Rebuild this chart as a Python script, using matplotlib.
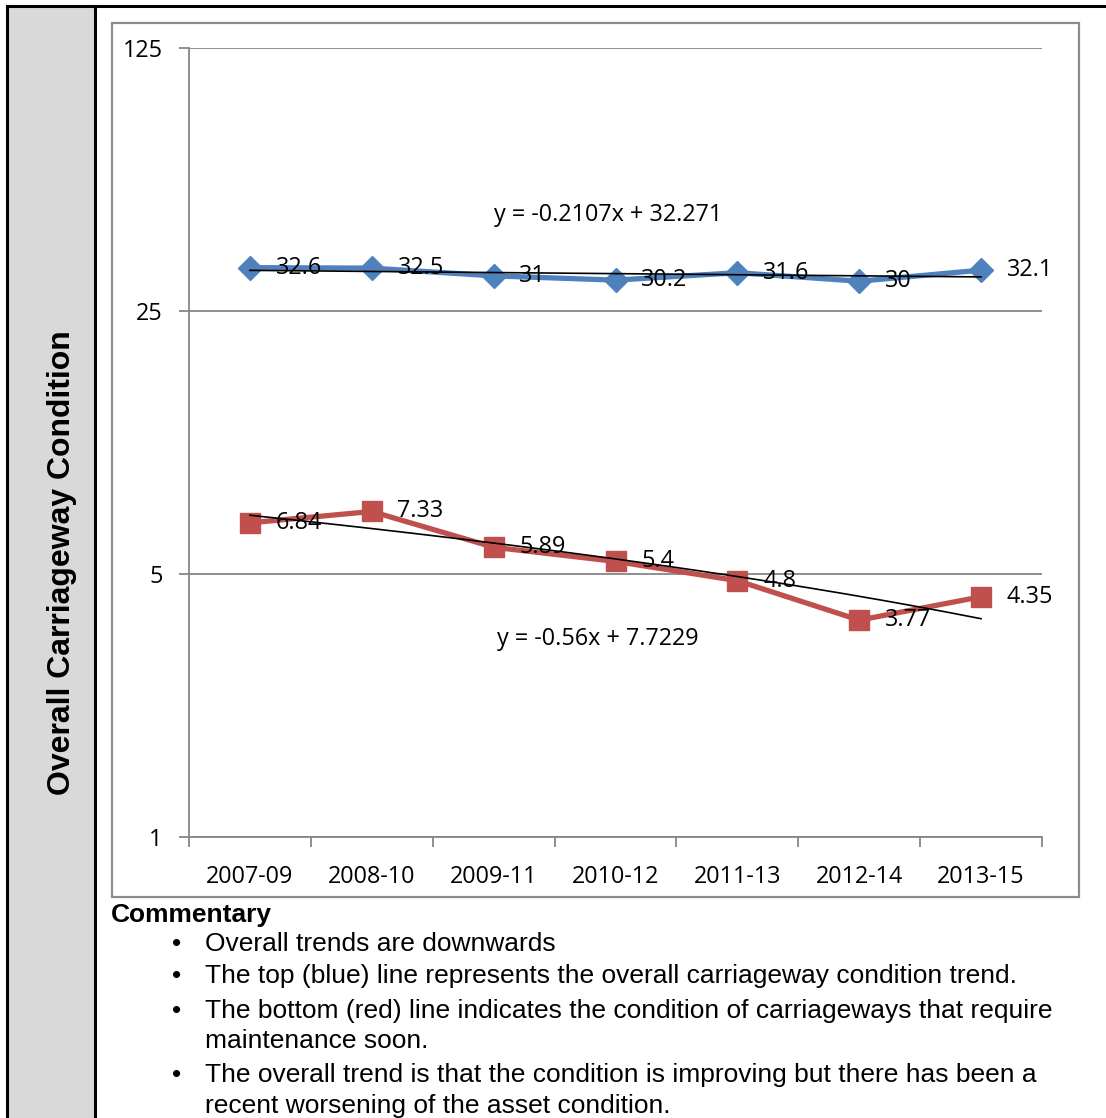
import matplotlib
matplotlib.use("Agg")
import matplotlib.pyplot as plt
from matplotlib.patches import Rectangle
from matplotlib.lines import Line2D
from matplotlib.ticker import FixedLocator, NullFormatter
import numpy as np

# data
periods = ["2007-09", "2008-10", "2009-11", "2010-12", "2011-13", "2012-14", "2013-15"]
overall = [32.6, 32.5, 31, 30.2, 31.6, 30, 32.1]
maint_soon = [6.84, 7.33, 5.89, 5.4, 4.8, 3.77, 4.35]
y_ticks = [1, 5, 25, 125]

side_label = "Overall Carriageway Condition"
commentary_title = "Commentary"
commentary = [
  ["Overall trends are downwards"],
  ["The top (blue) line represents the overall carriageway condition trend."],
  ["The bottom (red) line indicates the condition of carriageways that require",
   "maintenance soon."],
  ["The overall trend is that the condition is improving but there has been a",
   "recent worsening of the asset condition."],
]

W, H = 1106, 1118
BLUE = "#4f81bd"
RED = "#c0504d"
GRID = "#868686"
CHART_FONT = "Open Sans"
DOC_FONT = "Liberation Sans"
CHART_FS = 16.8
DOC_FS = 19


def fx(px):
  return px / W


def fy(py):
  return 1 - py / H


fig = plt.figure(figsize=(W / 100, H / 100), dpi=100)
fig.patch.set_facecolor("white")

# table layout : grey side column + black borders
fig.add_artist(Rectangle((fx(7), 0), fx(95) - fx(7), fy(6), transform=fig.transFigure,
                         facecolor="#d9d9d9", edgecolor="none", zorder=0))
fig.add_artist(Line2D([fx(7), 1], [fy(6), fy(6)], transform=fig.transFigure,
                      color="black", lw=2.2))
for xb in (7, 95):
  fig.add_artist(Line2D([fx(xb), fx(xb)], [0, fy(6)], transform=fig.transFigure,
                        color="black", lw=2.2))

fig.text(fx(62), fy(563), side_label, rotation=90, ha="center", va="center",
         fontsize=23, fontweight="bold", family=DOC_FONT)

# chart frame
fig.add_artist(Rectangle((fx(112), fy(897)), fx(1079) - fx(112), fy(23) - fy(897),
                         transform=fig.transFigure, facecolor="none",
                         edgecolor="#8c8c8c", lw=1.6, zorder=1))

ax = fig.add_axes([fx(189), fy(837), fx(1042) - fx(189), fy(48) - fy(837)])
x = np.arange(1, len(periods) + 1)

ax.plot(x, overall, color=BLUE, lw=3.8, marker="D", markersize=12, zorder=3)
ax.plot(x, maint_soon, color=RED, lw=3.8, marker="s", markersize=14.5, zorder=3)

# linear trendlines
xs = np.linspace(1, len(periods), 200)
equations = []
for series in (overall, maint_soon):
  coef = np.polyfit(x, series, 1)
  ax.plot(xs, np.polyval(coef, xs), color="black", lw=1.2, zorder=4)
  equations.append(f"y = {coef[0]:.4g}x + {coef[1]:.5g}")

fig.text(fx(494), fy(215), equations[0], ha="left", va="center",
         fontsize=CHART_FS, family=CHART_FONT)
fig.text(fx(497), fy(639), equations[1], ha="left", va="center",
         fontsize=CHART_FS, family=CHART_FONT)

# data labels to the right of each point
for series in (overall, maint_soon):
  for xi, v in zip(x, series):
    ax.annotate(f"{v:g}", (xi, v), xytext=(18.5, 0), textcoords="offset points",
                ha="left", va="center", fontsize=CHART_FS, family=CHART_FONT, zorder=5)

ax.set_yscale("log", base=5)
ax.set_ylim(1, 125)
ax.set_xlim(0.5, len(periods) + 0.5)
ax.yaxis.set_major_locator(FixedLocator(y_ticks))
ax.yaxis.set_minor_locator(FixedLocator([]))
ax.set_yticklabels([str(t) for t in y_ticks])
ax.yaxis.grid(True, color=GRID, lw=1.3)
ax.set_axisbelow(True)

# category axis : ticks between categories, labels centred
ax.set_xticks(np.arange(0.5, len(periods) + 1, 1))
ax.xaxis.set_major_formatter(NullFormatter())
ax.set_xticks(x, minor=True)
ax.set_xticklabels(periods, minor=True)
ax.tick_params(axis="x", which="major", length=7, width=1.3, color=GRID, direction="out")
ax.tick_params(axis="x", which="minor", length=0, pad=20)
ax.tick_params(axis="y", which="major", length=7, width=1.3, color=GRID, pad=12)
for lab in ax.get_xticklabels(minor=True) + ax.get_yticklabels():
  lab.set_fontsize(CHART_FS)
  lab.set_family(CHART_FONT)

for side in ("top", "right"):
  ax.spines[side].set_visible(False)
for side in ("left", "bottom"):
  ax.spines[side].set_color(GRID)
  ax.spines[side].set_linewidth(1.3)
ax.patch.set_alpha(0)

# commentary block
fig.text(fx(111), fy(922), commentary_title, ha="left", va="baseline",
         fontsize=DOC_FS, fontweight="bold", family=DOC_FONT)
baselines = [951, 983, 1018, 1048, 1082, 1113]
row = 0
for item in commentary:
  fig.text(fx(177), fy(baselines[row]), "\u2022", ha="center", va="baseline",
           fontsize=DOC_FS, family=DOC_FONT)
  for line in item:
    fig.text(fx(205), fy(baselines[row]), line, ha="left", va="baseline",
             fontsize=DOC_FS, family=DOC_FONT)
    row += 1

fig.savefig("out.png", dpi=100)
